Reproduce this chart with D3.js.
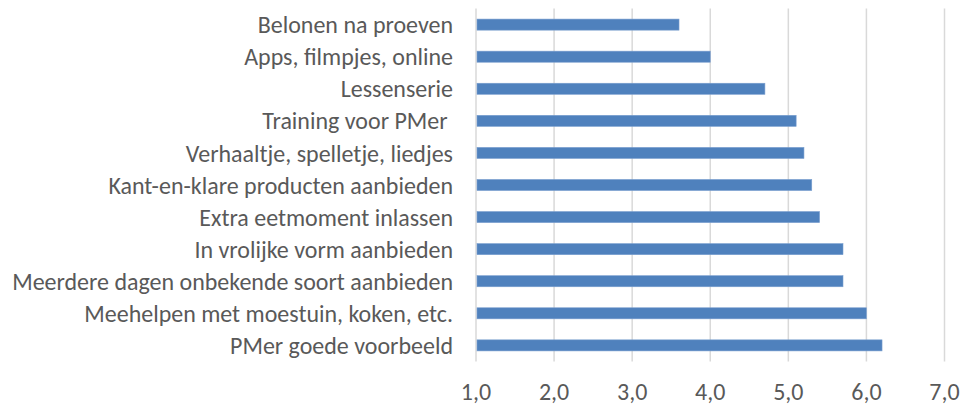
<!DOCTYPE html>
<html>
<head>
<meta charset="utf-8">
<script src="https://cdn.jsdelivr.net/npm/d3@7"></script>
<style>
  html, body { margin: 0; padding: 0; background: #ffffff; }
  svg { display: block; }
  text { font-family: Calibri, Carlito, Lato, "Open Sans", sans-serif; fill: #595959; }
</style>
</head>
<body>
<svg id="chart" width="964" height="405"></svg>
<script>
const categories = [
  "Belonen na proeven",
  "Apps, filmpjes, online",
  "Lessenserie",
  "Training voor PMer ",
  "Verhaaltje, spelletje, liedjes",
  "Kant-en-klare producten aanbieden",
  "Extra eetmoment inlassen",
  "In vrolijke vorm aanbieden",
  "Meerdere dagen onbekende soort aanbieden",
  "Meehelpen met moestuin, koken, etc.",
  "PMer goede voorbeeld"
];
const values = [3.6, 4.0, 4.7, 5.1, 5.2, 5.3, 5.4, 5.7, 5.7, 6.0, 6.2];
const tickValues = [1, 2, 3, 4, 5, 6, 7];
const tickLabels = ["1,0", "2,0", "3,0", "4,0", "5,0", "6,0", "7,0"];

const svg = d3.select("#chart");
const plot = { left: 476, right: 944.5, top: 8.5, bottom: 361.5 };

const x = d3.scaleLinear().domain([1, 7]).range([plot.left, plot.right]);
const y = d3.scaleBand().domain(categories).range([plot.top, plot.bottom]).paddingInner(0.655).paddingOuter(0.33);

// gridlines
svg.append("g").selectAll("line").data(tickValues).join("line")
  .attr("x1", d => x(d)).attr("x2", d => x(d))
  .attr("y1", plot.top).attr("y2", plot.bottom)
  .attr("stroke", "#d9d9d9").attr("stroke-width", 1.5);

// bars
svg.append("g").selectAll("rect").data(values).join("rect")
  .attr("x", x(1) + 1)
  .attr("y", (d, i) => y(categories[i]))
  .attr("width", d => x(d) - x(1) - 1)
  .attr("height", y.bandwidth())
  .attr("fill", "#4f81bd")
  .attr("stroke", "#7a9fcf").attr("stroke-width", 0.6);

// category labels
const fs = 20;
const labels = svg.append("g").selectAll("text").data(categories).join("text")
  .attr("x", 453)
  .attr("y", d => y(d) + y.bandwidth() / 2)
  .attr("dy", "0.36em")
  .attr("text-anchor", "end")
  .style("font-size", fs + "px")
  .style("white-space", "pre")
  .text(d => d);

// fit font size so longest label width ~441px
let maxW = 0;
labels.each(function(d) { if (d.startsWith("Meerdere")) maxW = this.getComputedTextLength(); });
const nfs = maxW > 0 ? fs * 441 / maxW : fs;
labels.style("font-size", nfs + "px");

// x axis tick labels
svg.append("g").selectAll("text").data(tickValues).join("text")
  .attr("x", d => x(d))
  .attr("y", 400)
  .attr("text-anchor", "middle")
  .style("font-size", nfs + "px")
  .text((d, i) => tickLabels[i]);
</script>
</body>
</html>
